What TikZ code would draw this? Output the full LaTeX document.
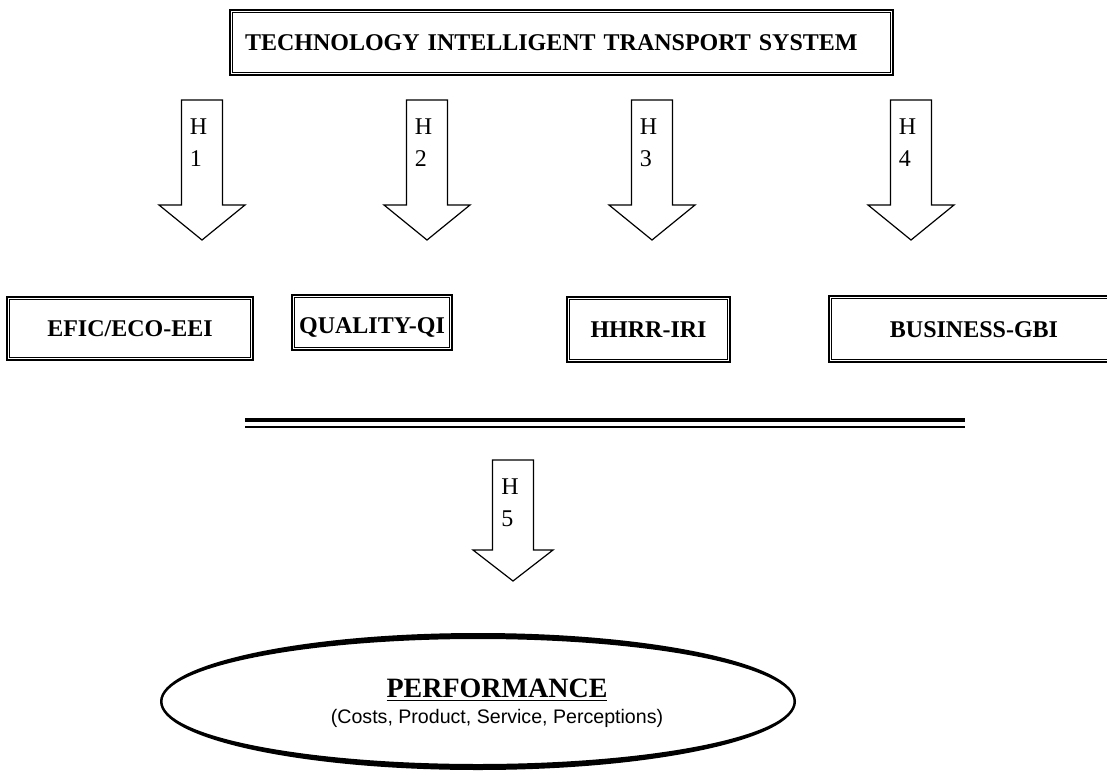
\documentclass[tikz,border=0pt]{standalone}
\usepackage{fontspec}
\setmainfont{Liberation Serif}
\setsansfont{Liberation Sans}
\usetikzlibrary{positioning,shapes.geometric}

\begin{document}
\begin{tikzpicture}[x=0.5pt,y=-0.5pt,
    box/.style={rectangle,draw,line width=1.3pt,inner sep=0pt,
                text height=8pt,text depth=0pt,
                font=\bfseries\fontsize{12}{14}\selectfont,align=center},
    innerline/.style={draw,line width=0.5pt},
    blockarr/.style={draw,line width=0.6pt,fill=white},
    hlabel/.style={font=\fontsize{12}{16}\selectfont,align=left,
                   anchor=north west,inner sep=0pt}]
\useasboundingbox (0,0) rectangle (1107,775);
% top box
\node[box,text width=316.5pt,align=left,inner xsep=7.5pt,minimum height=32.5pt] (tits) at (561.5,42.5)
    {TECHNOLOGY INTELLIGENT TRANSPORT SYSTEM};
% four factor boxes
\node[box,minimum width=123pt,minimum height=31.5pt] (efic) at (130,328.5) {EFIC/ECO-EEI};
\node[box,minimum width=80pt,minimum height=27.5pt,text height=11pt]  (qual) at (372,322.5) {QUALITY-QI};
\node[box,minimum width=81.5pt,minimum height=32.5pt] (hhrr) at (648.5,329.5) {HHRR-IRI};
\node[box,minimum width=145pt,minimum height=33pt]   (busi) at (974,329) {BUSINESS-GBI};
\foreach \n in {tits,efic,qual,hhrr,busi}
    \draw[innerline] ([shift={(4,4)}]\n.north west) rectangle ([shift={(-4,-4)}]\n.south east);
% hypothesis arrows
\foreach \cx/\num in {202/1,427/2,652/3,911/4}{
    \draw[blockarr] (\cx-20.5,100) -- (\cx+20.5,100) -- (\cx+20.5,205) -- (\cx+43,205)
        -- (\cx,240) -- (\cx-43,205) -- (\cx-20.5,205) -- cycle;
    \node[hlabel] (h\num) at (\cx-12.5,118) {H\\\num};
}
% separator
\coordinate (barl) at (245,420);
\coordinate (barr) at (965,420);
\draw[line width=2pt] (barl) -- (barr);
\draw[line width=0.8pt] ([yshift=-3.5pt]barl) -- ([yshift=-3.5pt]barr);
\draw[blockarr] (492.5,460) -- (533.5,460) -- (533.5,550) -- (553,550) -- (513,581)
    -- (473,550) -- (492.5,550) -- cycle;
\node[hlabel] (h5) at (501,478) {H\\5};
% performance
\node[ellipse,minimum width=318pt,minimum height=68pt] (perf) at (478,701.5) {};
\fill[even odd rule] (perf.center) ellipse [x radius=318,y radius=68.5]
                     (perf.center) ellipse [x radius=315.5,y radius=62.5];
\node[align=center,inner sep=0pt] (perftxt) at (497,703)
    {{\bfseries\fontsize{14}{16}\selectfont\underline{PERFORMANCE}}\\[1pt]
     {\sffamily\fontsize{9.8}{12}\selectfont (Costs, Product, Service, Perceptions)}};
\end{tikzpicture}
\end{document}
